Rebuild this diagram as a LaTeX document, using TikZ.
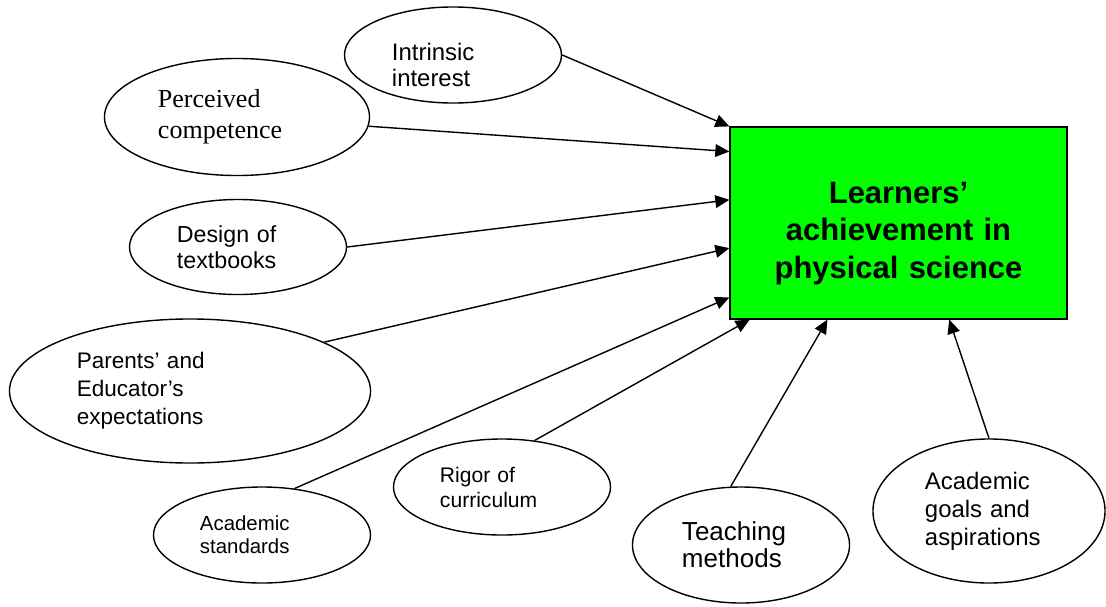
\documentclass[tikz,border=0pt]{standalone}
\usepackage{fontspec}
\setmainfont{Liberation Sans}
\newfontfamily\timesfont{Liberation Serif}
\usetikzlibrary{shapes.geometric,arrows.meta,calc}

\begin{document}
\begin{tikzpicture}[x=0.025cm,y=-0.025cm]
			\tikzset{factor/.style={ellipse, draw=black, line width=1pt, align=left, inner sep=0pt},
				pfeil/.style={line width=1pt, -{Triangle[length=10pt,width=9pt]}}}

			\useasboundingbox (0,0) rectangle (1106,606);

			\node[draw=black, line width=0.8pt, fill={rgb,255:red,0;green,255;blue,0}, minimum width=8.425cm, minimum height=4.8cm, text width=7.5cm, text height=30pt, align=center, font=\fontsize{22}{26.5}\selectfont\bfseries] at (898.5,223) (lern) {Learners’\\achievement in\\physical science};

			\node[factor, minimum width=5.425cm, minimum height=2.4cm, text width=3.05cm, text height=26pt, font=\fontsize{17}{18.5}\selectfont] at (453,55) (intr) {Intrinsic\\interest};
			\node[factor, minimum width=6.625cm, minimum height=2.925cm, text width=3.95cm, font=\timesfont\fontsize{18.5}{22}\selectfont] at (237,117) (perc) {Perceived\\competence};
			\node[factor, minimum width=5.425cm, minimum height=2.375cm, text width=3.05cm, font=\fontsize{16.5}{18.5}\selectfont] at (238,247) (desg) {Design of\\textbooks};
			\node[factor, minimum width=9.025cm, minimum height=3.6cm, text width=5.65cm, font=\fontsize{16}{20}\selectfont] at (190,391) (pare) {Parents’ and\\Educator’s\\expectations};
			\node[factor, minimum width=5.425cm, minimum height=2.4cm, text width=3.1cm, font=\fontsize{14.5}{16.4}\selectfont] at (262,535) (stnd) {Academic\\standards};
			\node[factor, minimum width=5.425cm, minimum height=2.4cm, text width=3.1cm, font=\fontsize{15}{17.8}\selectfont] at (502,487) (rigo) {Rigor of\\curriculum};
			\node[factor, minimum width=5.425cm, minimum height=2.9cm, text width=2.95cm, font=\fontsize{18.5}{19.2}\selectfont] at (741,545) (teac) {Teaching\\methods};
			\node[factor, minimum width=5.8cm, minimum height=3.6cm, text width=3.2cm, font=\fontsize{17}{20}\selectfont] at (989,511) (goal) {Academic\\goals and\\aspirations};

			% arrows into the left side of the box
			\draw[pfeil] (intr.east) -- (lern.north west);
			\draw[pfeil] (perc) -- ($(lern.north west)!0.13!(lern.south west)$);
			\draw[pfeil] (desg.east) -- ($(lern.north west)!0.38!(lern.south west)$);
			\draw[pfeil] (pare.20) -- ($(lern.north west)!0.63!(lern.south west)$);
			\draw[pfeil] (stnd.55) -- ($(lern.north west)!0.885!(lern.south west)$);
			% arrows into the bottom of the box
			\draw[pfeil] (rigo.55) -- ($(lern.south west)!0.06!(lern.south east)$);
			\draw[pfeil] (teac.100) -- ($(lern.south west)!0.29!(lern.south east)$);
			\draw[pfeil] (goal.north) -- ($(lern.south west)!0.65!(lern.south east)$);
		\end{tikzpicture}
\end{document}
